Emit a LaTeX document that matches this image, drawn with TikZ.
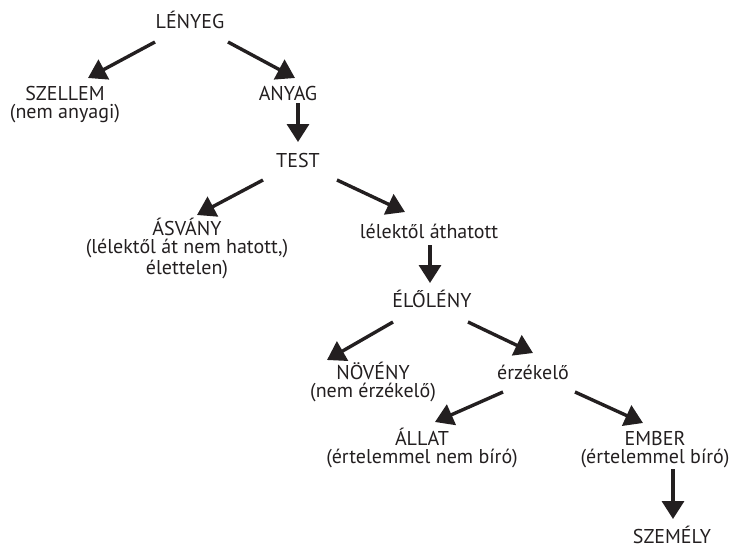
\documentclass[tikz,border=0pt]{standalone}
\usepackage{fontspec}
\setmainfont{PT Sans}
\usetikzlibrary{arrows.meta}

\definecolor{tinta}{HTML}{231F20}

\tikzset{
    fogalom/.style={anchor=base, inner sep=0pt, align=center, text=tinta,
        font=\fontsize{10}{9}\selectfont},
    nyil/.style={-{Triangle[length=9pt, width=11pt]}, line width=1.7pt, draw=tinta},
}

\begin{document}
\begin{tikzpicture}[x=0.5pt, y=-0.5pt]
    \useasboundingbox (0,0) rectangle (736,547);

    % fogalmak (a base horgony az utolso sor alapvonala)
    \node[fogalom] (lenyeg) at (190,28) {LÉNYEG};
    \node[fogalom] (szellem) at (65,118) {SZELLEM\\(nem anyagi)};
    \node[fogalom] (anyag) at (288,100) {ANYAG};
    \node[fogalom] (test) at (298,167) {TEST};
    \node[fogalom] (asvany) at (187,274) {ÁSVÁNY\\(lélektől át nem hatott,)\\élettelen)};
    \node[fogalom] (lelektol) at (429,238) {lélektől áthatott};
    \node[fogalom] (elolen) at (432,307) {ÉLŐLÉNY};
    \node[fogalom] (noveny) at (373,397) {NÖVÉNY\\(nem érzékelő)};
    \node[fogalom] (erzekelo) at (533,379) {érzékelő};
    \node[fogalom] (allat) at (422,463) {ÁLLAT\\(értelemmel nem bíró)};
    \node[fogalom] (ember) at (655,463) {EMBER\\(értelemmel bíró)};
    \node[fogalom] (szemely) at (672,543) {SZEMÉLY};

    % nyilak
    \draw[nyil] ([shift={(-35,14)}]lenyeg.base) -- ([shift={(23,-40)}]szellem.base);
    \draw[nyil] ([shift={(38,14)}]lenyeg.base) -- ([shift={(7,-22)}]anyag.base);
    \draw[nyil] ([shift={(10,3)}]anyag.base) -- ([shift={(0,-25)}]test.base);
    \draw[nyil] ([shift={(-35,13)}]test.base) -- ([shift={(10,-59)}]asvany.base);
    \draw[nyil] ([shift={(39,13)}]test.base) -- ([shift={(-24,-26)}]lelektol.base);
    \draw[nyil] ([shift={(1,7)}]lelektol.base) -- ([shift={(-2,-24)}]elolen.base);
    \draw[nyil] ([shift={(-39,15)}]elolen.base) -- ([shift={(-46,-37)}]noveny.base);
    \draw[nyil] ([shift={(36,15)}]elolen.base) -- ([shift={(0,-26)}]erzekelo.base);
    \draw[nyil] ([shift={(-30,13)}]erzekelo.base) -- ([shift={(13,-41)}]allat.base);
    \draw[nyil] ([shift={(42,13)}]erzekelo.base) -- ([shift={(-12,-40)}]ember.base);
    \draw[nyil] ([shift={(18,6)}]ember.base) -- ([shift={(1,-24)}]szemely.base);
\end{tikzpicture}
\end{document}
